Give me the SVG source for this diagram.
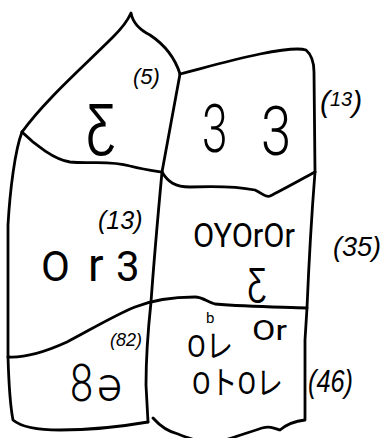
<svg xmlns="http://www.w3.org/2000/svg" width="389" height="438" viewBox="0 0 389 438">
<style>
.ln{fill:none;stroke:#000;stroke-width:2.8;stroke-linecap:round;stroke-linejoin:round}
.lb{font-family:"Liberation Sans","DejaVu Sans",sans-serif;font-style:italic;fill:#000}
.gl{font-family:"Roboto","Liberation Sans","Noto Sans CJK JP","DejaVu Sans",sans-serif;fill:#000}
.big{font-weight:300}
</style>
<rect width="389" height="438" fill="#fff"/>
<g id="connectors">
<path class="ln" d="M22,132 C45,100 85,65 113,37 C122,28 128,20 131,13 C133,24 140,30 150,35 C165,45 175,58 180,74"/>
<path class="ln" d="M180,74 C175,100 168,140 162,172"/>
<path class="ln" d="M22,132 C35,145 55,160 70,162 C90,164 110,160 130,166 C145,170 155,171 162,172"/>
<path class="ln" d="M180,74 C200,69 230,60 260,54 C285,49 300,48 306,50 C313,56 314,64 314,72 L315,172"/>
<path class="ln" d="M162,172 C168,182 175,187 190,187 C215,186 240,187 255,190 C262,193 266,198 270,196 C282,190 300,180 315,172"/>
<path class="ln" d="M22,132 C15,150 10,190 8,225 L8,357 C9,390 11,410 13,420 C20,426 35,430 60,430 C95,430 125,426 148,422"/>
<path class="ln" d="M162,172 C158,215 154,260 151,302 C148,330 146,360 146,385 L148,422"/>
<path class="ln" d="M8,357 C25,358 45,352 67,342 C90,330 115,315 135,307 C150,301 170,297 195,297 C203,297 207,302 215,304 C250,307 285,307 307,308"/>
<path class="ln" d="M315,172 C312,210 309,260 307,308 L305,340 L305,420 C296,421 287,424 280,430 C274,428 270,426 262,428 C250,432 238,436 228,439"/>
<path class="ln" d="M153,418 C160,426 170,432 178,434 C185,437 192,439 198,441"/>
</g>
<g id="node-5">
<text class="gl big" x="101" y="144" font-size="58" text-anchor="middle" transform="translate(101 144) scale(0.8 1) translate(-101 -144)">Ƹ</text>
<text class="lb" x="133" y="84" font-size="22">(5)</text>
</g>
<g id="node-13a">
<text class="gl big" x="202" y="152" font-size="66" transform="translate(202 152) scale(0.7 1) translate(-202 -152)">3</text>
<text class="gl big" x="261" y="155" font-size="68" transform="translate(261 155) scale(0.8 1) translate(-261 -155)">3</text>
<text class="lb" x="320" y="112" font-size="30">(<tspan font-size="20" dy="-6">13</tspan><tspan dy="6">)</tspan></text>
</g>
<g id="node-13b">
<text class="lb" x="98" y="229" font-size="25">(13)</text>
<text class="gl" y="281" font-size="42"><tspan x="41">O</tspan><tspan x="88" font-size="46">r</tspan><tspan x="116">3</tspan></text>
</g>
<g id="node-35">
<text class="gl" x="193" y="247" font-size="33" textLength="102" lengthAdjust="spacingAndGlyphs">OYOrOr</text>
<text class="gl" x="257" y="295" font-size="38" text-anchor="middle" transform="translate(257 295) scale(0.8 1) translate(-257 -295)">Ƹ</text>
<text class="lb" x="333" y="256" font-size="27">(35)</text>
</g>
<g id="node-82">
<text class="lb" x="110" y="346" font-size="18">(82)</text>
<text class="gl big" x="70" y="401" font-size="52" transform="translate(70 401) scale(0.8 1) translate(-70 -401)">8</text>
<text class="gl big" x="97" y="401" font-size="48">ə</text>
</g>
<g id="node-46">
<text class="gl" x="206" y="323" font-size="15">b</text>
<text class="gl" x="187" y="357" font-size="32" textLength="46" lengthAdjust="spacingAndGlyphs">Oレ</text>
<text class="gl" x="252" y="340" font-size="28" textLength="35" lengthAdjust="spacingAndGlyphs">Or</text>
<text class="gl" x="192" y="394" font-size="32" textLength="91" lengthAdjust="spacingAndGlyphs">OトOレ</text>
<text class="lb" x="308" y="392" font-size="32" textLength="45" lengthAdjust="spacingAndGlyphs">(46)</text>
</g>
</svg>
